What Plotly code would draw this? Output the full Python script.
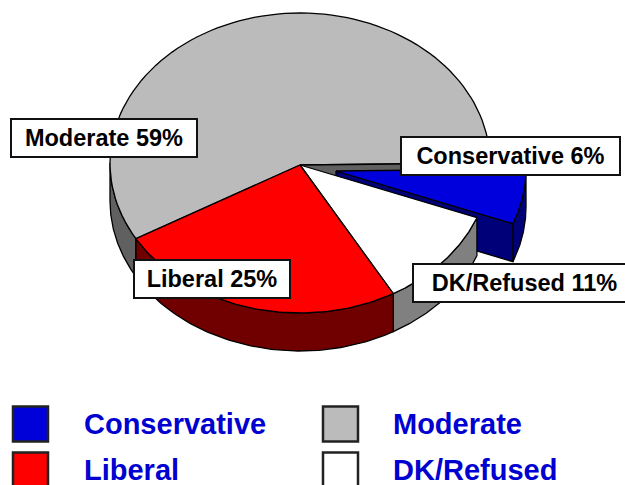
import numpy as np
import plotly.graph_objects as go

# Data (clockwise order round the pie)
categories = ["Conservative", "DK/Refused", "Liberal", "Moderate"]
values = [6, 11, 25, 59]
slice_labels = ["Conservative 6%", "DK/Refused 11%", "Liberal 25%", "Moderate 59%"]

# Legend order
legend_names = ["Conservative", "Liberal", "Moderate", "DK/Refused"]
legend_colors = ["#0000D8", "#FF0000", "#BBBBBB", "#FFFFFF"]

# Style and geometry
TOP = {"Conservative": "#0000DC", "DK/Refused": "#FFFFFF", "Liberal": "#FF0000", "Moderate": "#BBBBBB"}
SIDE = {"Conservative": "#000078", "DK/Refused": "#808080", "Liberal": "#700000", "Moderate": "#606060"}
CX, CY, RX, RY, DEPTH = 300, 163, 190, 150, 38
START = 0
EXPLODE = {"Conservative": (36, 6)}

total = sum(values)
angles = {}
a = START
for c, v in zip(categories, values):
    angles[c] = (a, a + v / total * 360)
    a += v / total * 360


def arc(name, t0, t1, dy=0):
    ox, oy = EXPLODE.get(name, (0, 0))
    t = np.radians(np.linspace(t0, t1, 90))
    return CX + ox + RX * np.cos(t), CY + oy + dy + RY * np.sin(t)


def apex(name):
    ox, oy = EXPLODE.get(name, (0, 0))
    return CX + ox, CY + oy + 2


fig = go.Figure()


def poly(x, y, color):
    fig.add_trace(go.Scatter(
        x=list(x) + [x[0]], y=list(y) + [y[0]], mode="lines", fill="toself",
        fillcolor=color, line=dict(color="#000000", width=1.3),
        hoverinfo="skip", showlegend=False))


def top(name):
    t0, t1 = angles[name]
    x, y = arc(name, t0, t1)
    ax, ay = apex(name)
    poly([ax, *x], [ay, *y], TOP[name])


def side(name):
    t0, t1 = angles[name]
    t0, t1 = max(t0, 0), min(t1, 180)
    x0, y0 = arc(name, t0, t1)
    x1, y1 = arc(name, t0, t1, DEPTH)
    poly([*x0, *x1[::-1]], [*y0, *y1[::-1]], SIDE[name])


def cut(name, t):
    x, y = arc(name, t, t)
    ax, ay = apex(name)
    poly([ax, x[0], x[0], ax], [ay, y[0], y[0] + DEPTH, ay + DEPTH], SIDE[name])


side("Moderate")
top("Moderate")
cut("Moderate", angles["Moderate"][1])
side("Conservative")
cut("Conservative", angles["Conservative"][1])
top("Conservative")
side("DK/Refused")
top("DK/Refused")
side("Liberal")
top("Liberal")

# Legend
leg_x = [30.5, 30.5, 340.5, 340.5]
leg_y = [424, 470, 424, 470]
txt_x = [82, 82, 391, 391]
fig.add_trace(go.Scatter(
    x=leg_x, y=leg_y, mode="markers",
    marker=dict(symbol="square", size=35, color=legend_colors,
                line=dict(color="#222222", width=2.5)),
    hoverinfo="skip", showlegend=False, cliponaxis=False))

annotations = []
for n, x, y in zip(legend_names, txt_x, leg_y):
    annotations.append(dict(
        x=x, y=y, text="<b>" + n + "</b>", showarrow=False, xanchor="left", yanchor="middle",
        font=dict(family="Liberation Sans", size=29, color="#0000D0")))

boxes = {
    "Moderate 59%": (10, 138, 184, 36),
    "Conservative 6%": (400, 156, 217, 36),
    "Liberal 25%": (133, 279, 154, 36),
    "DK/Refused 11%": (412, 283, 221, 36),
}
for s in slice_labels:
    x, y, w, h = boxes[s]
    annotations.append(dict(
        x=x, y=y, text="<b>" + s + "</b>", showarrow=False, xanchor="left", yanchor="middle",
        width=w, height=h, align="center", valign="middle", bgcolor="#FFFFFF",
        bordercolor="#111111", borderwidth=2, borderpad=0,
        font=dict(family="Liberation Sans", size=23.5, color="#000000")))

fig.update_layout(
    width=625, height=485, margin=dict(l=0, r=0, t=0, b=0),
    paper_bgcolor="#FFFFFF", plot_bgcolor="#FFFFFF", showlegend=False,
    annotations=annotations,
    xaxis=dict(range=[0, 625], visible=False, fixedrange=True),
    yaxis=dict(range=[485, 0], visible=False, fixedrange=True),
)
fig.write_html("out.html", config={"displayModeBar": False},
               post_script="document.body.style.margin='0';document.body.style.overflow='hidden';")
